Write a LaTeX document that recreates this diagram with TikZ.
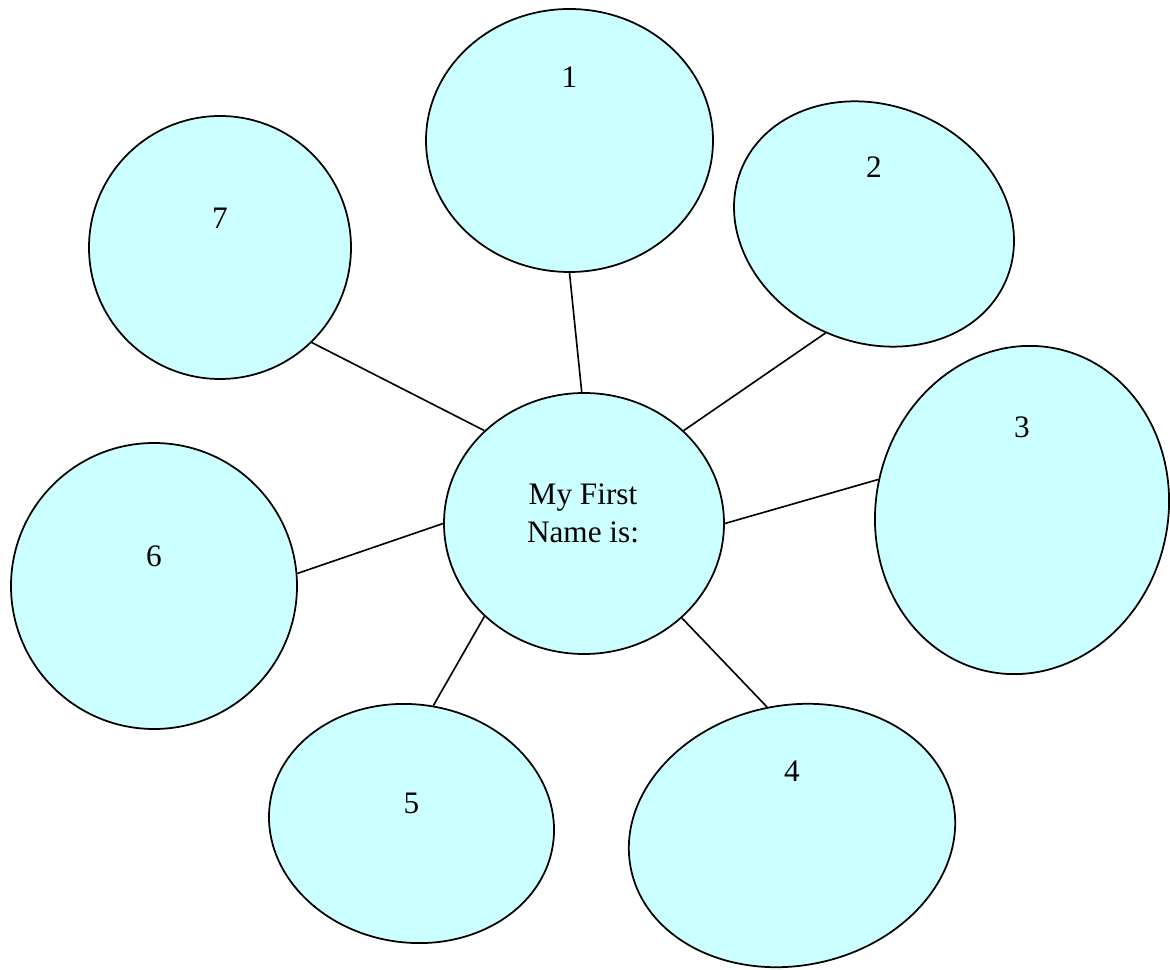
\documentclass[tikz,border=0pt]{standalone}
\usepackage{fontspec}
\setmainfont{Liberation Serif}
\usetikzlibrary{shapes.geometric}
\definecolor{bubblecyan}{RGB}{204,255,255}
\tikzstyle{bubble} = [ellipse, draw=black, fill=bubblecyan, line width=0.7pt, inner sep=0pt]
\tikzstyle{link} = [line width=0.65pt, black]
\tikzstyle{numtext} = [font=\fontsize{12.5}{15.2}\selectfont, inner sep=0pt]

\begin{document}
\begin{tikzpicture}[x=0.4pt, y=-0.4pt]
\useasboundingbox (0,0) rectangle (1170,970);
% centre bubble
\node[bubble, minimum width=280*0.4pt, minimum height=261*0.4pt] (c) at (584,523.5) {};
\node[numtext, align=center] (ctext) at (583,513.5) {My First\\Name is:};

% outer bubbles: number/x/y/width/height/rotation/label y
\foreach \n/\x/\y/\w/\h/\r/\ty in {1/569.5/140.5/287/263/0/77, 2/874/224/287/237/-23/167, 3/1022/510/292/330/-13/427, 4/792/835.5/329/260/12/771, 5/411.5/823.5/286/238/-8.5/803, 6/154/586/286/286/0/556, 7/220/247.5/262/263/0/218} {
    \node[bubble, minimum width=\w*0.4pt, minimum height=\h*0.4pt, rotate=\r] (n\n) at (\x,\y) {};
    \node[numtext] (t\n) at (\x,\ty) {\n};
}

% spokes
\foreach \n/\a/\b in {1/91/270, 2/43/269, 3/0/181, 4/316/89, 5/223/88, 6/180/5, 7/137/314} {
    \draw[link] (c.\a) -- (n\n.\b);
}
\end{tikzpicture}
\end{document}
